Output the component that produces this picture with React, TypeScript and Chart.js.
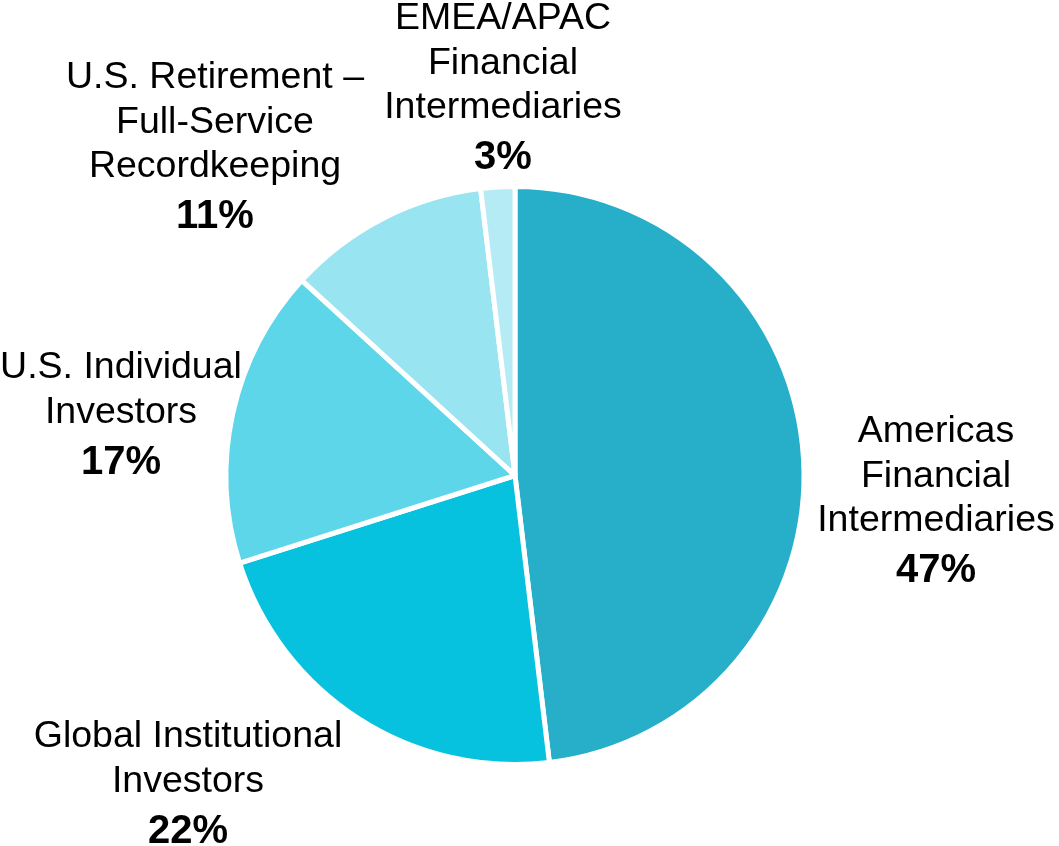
import React, { useEffect, useRef } from "react";
import { Chart, registerables } from "chart.js";

Chart.register(...registerables);

// ---- data ----
const categories: string[][] = [
  ["Americas", "Financial", "Intermediaries"],
  ["Global Institutional", "Investors"],
  ["U.S. Individual", "Investors"],
  ["U.S. Retirement \u2013", "Full-Service", "Recordkeeping"],
  ["EMEA/APAC", "Financial", "Intermediaries"],
];
const shares: number[] = [48.1, 22.0, 16.7, 11.3, 1.9];
const percentLabels: string[] = ["47%", "22%", "17%", "11%", "3%"];
const sliceColors: string[] = ["#27AEC9", "#06C2DE", "#5DD6E9", "#98E4F0", "#B5EBF5"];

// ---- label layout (offset of the first text line from the pie centre, px) ----
const labelOffsets: [number, number][] = [
  [421, -43.5],
  [-327, 261.5],
  [-394, -107.5],
  [-300, -397.5],
  [-12, -456.5],
];

const FONT_FAMILY = '"Liberation Sans", Arial, Helvetica, sans-serif';
const LINE_H = 44.5;
const PCT_GAP = 50;

const labelPlugin = {
  id: "sliceLabels",
  afterDraw(chart: any) {
    const meta = chart.getDatasetMeta(0);
    const arc0 = meta.data[0];
    if (!arc0) return;
    const { x: cx, y: cy } = arc0.getProps(["x", "y"], true);
    const ctx = chart.ctx;
    ctx.save();
    ctx.fillStyle = "#000";
    ctx.textAlign = "center";
    ctx.textBaseline = "middle";
    categories.forEach((lines, i) => {
      const [ox, oy] = labelOffsets[i];
      const x = cx + ox;
      let y = cy + oy;
      ctx.font = `37.5px ${FONT_FAMILY}`;
      lines.forEach((line, j) => {
        ctx.fillText(line, x, y + j * LINE_H);
      });
      y = y + (lines.length - 1) * LINE_H + PCT_GAP;
      ctx.font = `bold 40px ${FONT_FAMILY}`;
      ctx.fillText(percentLabels[i], x, y);
    });
    ctx.restore();
  },
};

export default function App() {
  const canvasRef = useRef<HTMLCanvasElement | null>(null);

  useEffect(() => {
    if (!canvasRef.current) return;
    const chart = new Chart(canvasRef.current, {
      type: "pie",
      data: {
        labels: categories.map((c) => c.join(" ")),
        datasets: [
          {
            data: shares,
            backgroundColor: sliceColors,
            borderColor: "#ffffff",
            borderWidth: 5,
          },
        ],
      },
      options: {
        responsive: false,
        animation: false,
        layout: {
          padding: { left: 223.5, right: 252.5, top: 184, bottom: 79 },
        },
        plugins: {
          legend: { display: false },
          tooltip: { enabled: false },
        },
      },
      plugins: [labelPlugin],
    });
    return () => chart.destroy();
  }, []);

  return (
    <div
      style={{
        position: "fixed",
        left: 0,
        top: 0,
        width: 1059,
        height: 846,
        background: "#fff",
      }}
    >
      <canvas ref={canvasRef} width={1059} height={846} />
    </div>
  );
}
